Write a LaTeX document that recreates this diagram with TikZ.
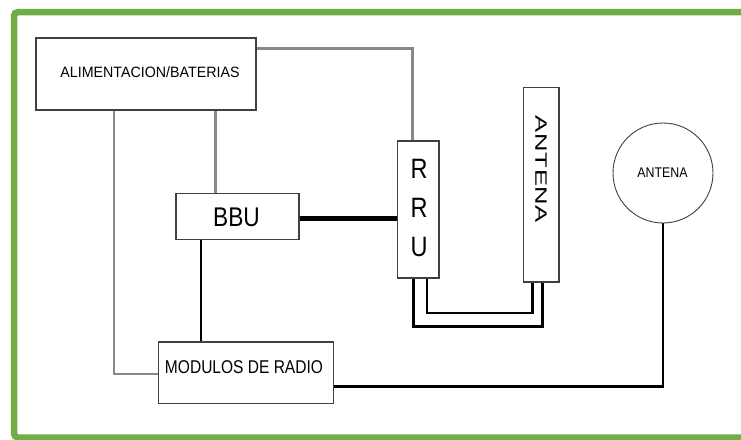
\documentclass[tikz,border=0pt]{standalone}
\usepackage{fontspec}
\setmainfont{Liberation Sans}
\newfontfamily\narrowfont[FakeStretch=0.84]{Liberation Sans}
\newfontfamily\midfont[FakeStretch=0.95]{Liberation Sans}
\newfontfamily\widefont[FakeStretch=1.55,LetterSpace=4]{Liberation Sans}
\definecolor{frameg}{HTML}{70AD47}
\definecolor{boxline}{HTML}{404040}
\definecolor{glink}{HTML}{888888}
\begin{document}
\begin{tikzpicture}[x=1pt,y=-1pt,
  box/.style={draw=boxline,line width=1.1pt,fill=white,rectangle,inner sep=0pt},
  lbl/.style={inner sep=0pt,text=black},
  glinkst/.style={draw=glink,line width=2.4pt},
  blinkst/.style={draw=black,line width=2.6pt},
  thickst/.style={draw=black,line width=5pt}]
\useasboundingbox (0,0) rectangle (741,439);
\fill[white] (0,0) rectangle (741,439);
% frame
\draw[frameg,line width=6.5pt,rounded corners=4pt] (760,12) -- (14,12) -- (14,437.5) -- (760,437.5);
% boxes
\node[box,minimum width=220,minimum height=72] (alim) at (146,74) {};
\node[lbl,font=\midfont\fontsize{15}{15}\selectfont] (alimt) at (150,72) {ALIMENTACION/BATERIAS};
\node[box,minimum width=123,minimum height=46] (bbu) at (237.5,216.5) {};
\node[lbl,font=\narrowfont\fontsize{27}{27}\selectfont] (bbut) at (236.5,217) {BBU};
\node[box,minimum width=41.5,minimum height=137] (rru) at (418.25,209.5) {};
\node[lbl,font=\narrowfont\fontsize{28}{28}\selectfont] (rr1) at (419,169) {R};
\node[lbl,font=\narrowfont\fontsize{28}{28}\selectfont] (rr2) at (419,208) {R};
\node[lbl,font=\narrowfont\fontsize{28}{28}\selectfont] (rr3) at (419,247) {U};
\node[box,minimum width=35.5,minimum height=194.5] (antv) at (541.25,184.75) {};
\node[lbl,rotate=-90,font=\widefont\fontsize{16.5}{16.5}\selectfont] (antvt) at (541,169.5) {ANTENA};
\node[box,minimum width=175,minimum height=61.5] (mod) at (246,372.75) {};
\node[lbl,font=\narrowfont\fontsize{18.5}{18.5}\selectfont] (modt) at (244,367) {MODULOS DE RADIO};
\node[draw=boxline,line width=0.9pt,circle,minimum size=100,inner sep=0pt,fill=white] (ant) at (663,173) {};
\node[lbl,font=\midfont\fontsize{14}{14}\selectfont,xscale=0.93] (antt) at (662.5,173) {ANTENA};
% gray links
\draw[glinkst] ([yshift=-11pt]alim.north east) -| ([xshift=-5.75pt]rru.north);
\draw[glinkst] (bbu.north -| 215.5,0) -- (alim.south -| 215.5,0);
\draw[glinkst] (alim.south -| 114,0) |- ([yshift=-1.5pt]mod.west);
% black links
\draw[thickst] ([yshift=-1.5pt]bbu.east) -- ([yshift=-1.5pt]bbu.east -| rru.west);
\draw[blinkst] (bbu.south -| 201,0) -- (mod.north -| 201,0);
\draw[blinkst] ([yshift=-13.75pt]mod.east) -| (ant.south);
\draw[blinkst] ([xshift=-4.75pt]rru.south) |- (542.5,326.5) coordinate (c1) -- (c1 |- antv.south);
\draw[blinkst] ([xshift=8.75pt]rru.south) |- (532.5,313) coordinate (c2) -- (c2 |- antv.south);
\end{tikzpicture}
\end{document}
